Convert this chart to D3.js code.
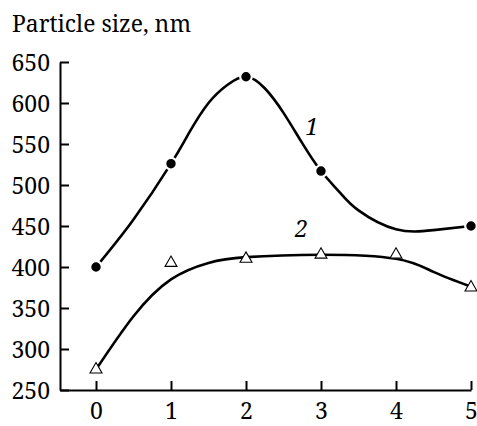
<!DOCTYPE html>
<html>
<head>
<meta charset="utf-8">
<script src="https://cdn.jsdelivr.net/npm/d3@7"></script>
<style>
    body { margin: 0; background: #fff; }
</style>
</head>
<body>
<svg id="chart"></svg>
<script>
// measured points
const xValues = [0, 1, 2, 3, 4, 5];
const series1 = [400, 526, 632, 517, null, 450];
const series2 = [275, 405, 410, 415, 415, 375];

// the smooth fitted curves
const fitX1 = [0, 0.5, 1, 1.25, 1.5, 1.75, 2, 2.25, 2.5, 2.75, 3, 3.25, 3.5, 4, 4.5, 5];
const fit1 = [400, 458, 526, 565, 600, 622, 632, 618, 588, 551, 517, 491, 469, 446, 445, 450];
const fitX2 = [0, 0.5, 1, 1.5, 2, 3, 4, 4.5, 5];
const fit2 = [275, 340, 385, 405, 412, 415, 410, 394, 376];

const yTicks = [250, 300, 350, 400, 450, 500, 550, 600, 650];
const axisTitle = 'Particle size, nm';
const curveLabels = [{text: '1', x: 2.88, y: 561}, {text: '2', x: 2.74, y: 437}];

const width = 477;
const height = 426;
const serif = '"Noto Serif", Georgia, "Liberation Serif", "Times New Roman", serif';

const svg = d3.select('#chart')
    .attr('width', width)
    .attr('height', height);

const scales = {};
scales.x = d3.scaleLinear()
    .domain([-0.48, 5])
    .range([60, 471]);
scales.y = d3.scaleLinear()
    .domain([250, 650])
    .range([390, 62]);

// axes
const axes = {};
axes.x = d3.axisBottom(scales.x)
    .tickValues(xValues)
    .tickFormat(d3.format('d'))
    .tickSizeInner(-9)
    .tickSizeOuter(0)
    .tickPadding(13);
axes.y = d3.axisLeft(scales.y)
    .tickValues(yTicks)
    .tickSizeInner(-9)
    .tickSizeOuter(0)
    .tickPadding(10);

const elAxes = {};
elAxes.x = svg.append('g')
    .attr('class', 'axis axis--x')
    .attr('transform', `translate(0,${scales.y(250)})`)
    .call(axes.x);
elAxes.y = svg.append('g')
    .attr('class', 'axis axis--y')
    .attr('transform', `translate(${scales.x(-0.48)},0)`)
    .call(axes.y);

svg.selectAll('.axis path, .axis line')
    .attr('stroke', '#000')
    .attr('stroke-width', 2);
svg.selectAll('.axis')
    .attr('font-family', serif)
    .attr('font-size', 23);
svg.selectAll('.axis text').attr('fill', '#000');
elAxes.x.selectAll('text').attr('dy', '0.7em');
elAxes.y.selectAll('text').attr('dy', '0.36em');

svg.append('text')
    .attr('x', 12)
    .attr('y', 32)
    .attr('font-family', serif)
    .attr('font-size', 24)
    .attr('textLength', 179)
    .attr('lengthAdjust', 'spacingAndGlyphs')
    .text(axisTitle);

// fitted curves
const line = d3.line()
    .x(d => scales.x(d[0]))
    .y(d => scales.y(d[1]))
    .curve(d3.curveNatural);

const elCurves = svg.append('g').classed('curves', true);
[[fitX1, fit1], [fitX2, fit2]].forEach(([fx, fit]) => {
    elCurves.append('path')
        .datum(fit.map((v, i) => [fx[i], v]))
        .attr('fill', 'none')
        .attr('stroke', '#000')
        .attr('stroke-width', 2.6)
        .attr('d', line);
});

// markers
const pts1 = xValues.map((x, i) => [x, series1[i]]).filter(p => p[1] != null);
const pts2 = xValues.map((x, i) => [x, series2[i]]);

svg.append('g')
    .classed('points1', true)
    .selectAll('circle')
    .data(pts1)
    .join('circle')
    .attr('cx', p => scales.x(p[0]))
    .attr('cy', p => scales.y(p[1]))
    .attr('r', 5.8)
    .attr('fill', '#000')
    .attr('stroke', '#fff')
    .attr('stroke-width', 2.2);

const tri = d3.symbol().type(d3.symbolTriangle).size(62);
svg.append('g')
    .classed('points2', true)
    .selectAll('path')
    .data(pts2)
    .join('path')
    .attr('transform', p => `translate(${scales.x(p[0])},${scales.y(p[1])})`)
    .attr('d', tri)
    .attr('fill', '#fff')
    .attr('stroke', '#000')
    .attr('stroke-width', 1.1);

// curve numbers
svg.append('g')
    .selectAll('text')
    .data(curveLabels)
    .join('text')
    .attr('x', d => scales.x(d.x))
    .attr('y', d => scales.y(d.y))
    .attr('text-anchor', 'middle')
    .attr('font-family', serif)
    .attr('font-size', 23)
    .attr('font-style', 'italic')
    .text(d => d.text);
</script>
</body>
</html>
